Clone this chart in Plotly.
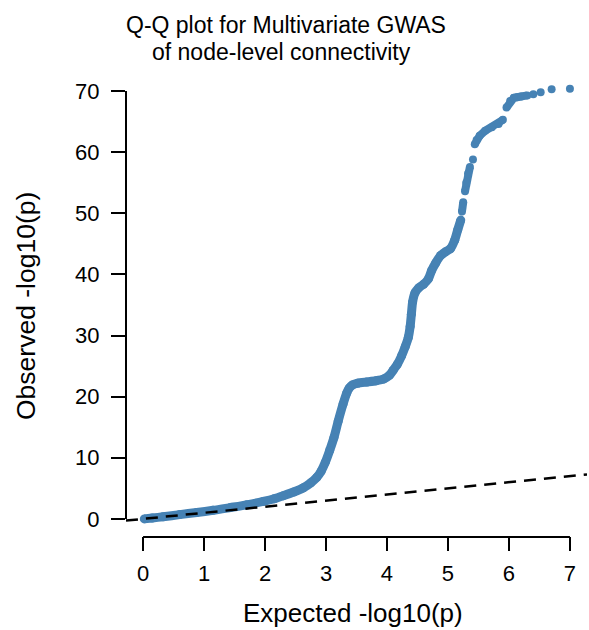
import plotly.graph_objects as go

# ---- data ----
# dense, continuous part of the Q-Q curve (expected, observed)
curve_exp = [0.02, 0.15, 0.33, 0.60, 0.88, 1.15, 1.43, 1.70, 1.97, 2.15, 2.30, 2.47, 2.63, 2.75, 2.85,
             2.92, 2.99, 3.06, 3.13, 3.20, 3.28, 3.34, 3.38, 3.43, 3.52, 3.67, 3.82, 3.95, 4.04, 4.10,
             4.17, 4.24, 4.30, 4.35, 4.38, 4.40, 4.42, 4.46, 4.52, 4.60, 4.68, 4.73, 4.80, 4.88, 4.96,
             5.04, 5.11, 5.16, 5.21]
curve_obs = [0.0, 0.15, 0.35, 0.70, 1.05, 1.40, 1.85, 2.30, 2.85, 3.30, 3.80, 4.40, 5.10, 5.90, 6.80,
             7.80, 9.30, 11.2, 13.3, 16.0, 18.8, 20.6, 21.4, 21.9, 22.2, 22.4, 22.6, 22.9, 23.5, 24.3,
             25.3, 26.7, 28.2, 29.7, 31.5, 33.5, 35.5, 37.0, 37.8, 38.4, 39.3, 40.6, 41.9, 43.1, 43.7,
             44.2, 45.6, 47.3, 48.9]

# upper part: short runs of points separated by gaps (None = gap)
upper_exp = [5.23, 5.25, None, 5.28, 5.30, 5.33, 5.36, None, 5.44, 5.47, 5.52, 5.61, 5.72, 5.83, 5.90,
             None, 5.96, 6.02, 6.08, 6.13, 6.20, 6.30]
upper_obs = [50.3, 51.8, None, 53.6, 55.0, 56.5, 57.6, None, 61.3, 62.0, 62.7, 63.5, 64.1, 64.6, 65.3,
             None, 67.3, 68.4, 68.9, 69.0, 69.1, 69.3]

# isolated top points
top_exp = [5.41, 6.40, 6.52, 6.70, 7.00]
top_obs = [58.8, 69.5, 69.8, 70.3, 70.4]

x_ticks = [0, 1, 2, 3, 4, 5, 6, 7]
y_ticks = [0, 10, 20, 30, 40, 50, 60, 70]

title_lines = ["Q-Q plot for Multivariate GWAS", "of node-level connectivity"]
x_title = "Expected -log10(p)"
y_title = "Observed -log10(p)"

# ---- layout geometry ----
W, H = 589, 630
ML, MR, MT, MB = 126, 2, 74, 94
PW, PH = W - ML - MR, H - MT - MB
x_range = [-0.28, 7.28]
y_range = [-2.8, 72.8]

def px_x(px):
    return (px - ML) / PW

def px_y(py):
    return (H - MB - py) / PH

BLUE = "#4682B4"
FONT = "Liberation Sans, Arial, Helvetica, sans-serif"

fig = go.Figure()

fig.add_trace(go.Scatter(x=curve_exp, y=curve_obs, mode="lines+markers",
                         line=dict(color=BLUE, width=9, shape="spline", smoothing=0.6),
                         marker=dict(color=BLUE, size=9), hoverinfo="skip"))
fig.add_trace(go.Scatter(x=upper_exp, y=upper_obs, mode="lines+markers", connectgaps=False,
                         line=dict(color=BLUE, width=8),
                         marker=dict(color=BLUE, size=8), hoverinfo="skip"))
fig.add_trace(go.Scatter(x=top_exp, y=top_obs, mode="markers",
                         marker=dict(color=BLUE, size=8), hoverinfo="skip"))

# y = x reference line across the plotting region
fig.add_trace(go.Scatter(x=x_range, y=x_range, mode="lines",
                         line=dict(color="black", width=2.5, dash="12px,8px"), hoverinfo="skip"))

fig.update_layout(
    width=W, height=H, margin=dict(l=ML, r=MR, t=MT, b=MB),
    paper_bgcolor="white", plot_bgcolor="white", showlegend=False,
    font=dict(family=FONT, color="black"),
)
fig.update_xaxes(range=x_range, tickvals=x_ticks, showgrid=False, zeroline=False, showline=False,
                 ticks="outside", ticklen=14, tickwidth=2, tickcolor="black",
                 tickfont=dict(size=22, family=FONT, color="black"), ticklabelstandoff=4)
fig.update_yaxes(range=y_range, tickvals=y_ticks, showgrid=False, zeroline=False, showline=False,
                 ticks="outside", ticklen=14, tickwidth=2, tickcolor="black",
                 tickfont=dict(size=22, family=FONT, color="black"), ticklabelstandoff=7)

# R-style axis lines spanning first to last tick
fig.add_shape(type="line", xref="x", yref="paper", x0=x_ticks[0], x1=x_ticks[-1],
              y0=px_y(537), y1=px_y(537), line=dict(color="black", width=2))
fig.add_shape(type="line", xref="paper", yref="y", x0=px_x(126), x1=px_x(126),
              y0=y_ticks[0], y1=y_ticks[-1], line=dict(color="black", width=2))

annos = [
    dict(text=title_lines[0], x=px_x(286), y=px_y(25), size=23, angle=0),
    dict(text=title_lines[1], x=px_x(281), y=px_y(52), size=23, angle=0),
    dict(text=x_title, x=px_x(353), y=px_y(613), size=26, angle=0),
    dict(text=y_title, x=px_x(26), y=px_y(306), size=26.5, angle=-90),
]
for a in annos:
    fig.add_annotation(text=a["text"], x=a["x"], y=a["y"], xref="paper", yref="paper",
                       xanchor="center", yanchor="middle", showarrow=False, textangle=a["angle"],
                       font=dict(size=a["size"], family=FONT, color="black"))

fig.write_html("out.html")
